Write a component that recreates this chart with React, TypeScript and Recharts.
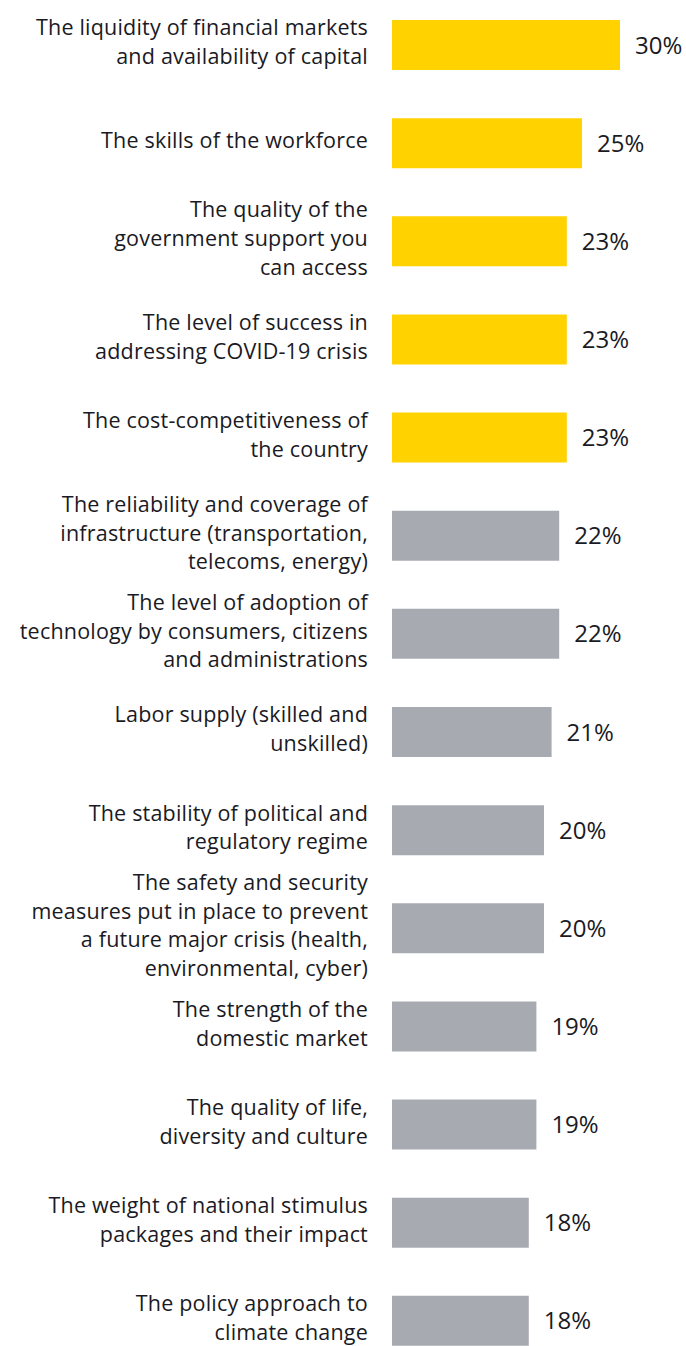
import { Bar, BarChart, Cell, LabelList, XAxis, YAxis } from 'recharts';

// each label is split the way the source wraps it
const categories = [
  'The liquidity of financial markets|and availability of capital',
  'The skills of the workforce',
  'The quality of the|government support you|can access',
  'The level of success in|addressing COVID-19 crisis',
  'The cost-competitiveness of|the country',
  'The reliability and coverage of|infrastructure (transportation,|telecoms, energy)',
  'The level of adoption of|technology by consumers, citizens|and administrations',
  'Labor supply (skilled and|unskilled)',
  'The stability of political and|regulatory regime',
  'The safety and security|measures put in place to prevent|a future major crisis (health,|environmental, cyber)',
  'The strength of the|domestic market',
  'The quality of life,|diversity and culture',
  'The weight of national stimulus|packages and their impact',
  'The policy approach to|climate change',
];
const values = [30, 25, 23, 23, 23, 22, 22, 21, 20, 20, 19, 19, 18, 18];
const highlighted = [true, true, true, true, true, false, false, false, false, false, false, false, false, false];

const YELLOW = '#FFD200';
const GREY = '#A7ABB1';
const INK = '#1A1A24';
const FONT = '"Open Sans", "Noto Sans", sans-serif';

const data = categories.map((name, i) => ({ name, value: values[i], hi: highlighted[i] }));

function CategoryTick(props: any) {
  const { x, y, payload } = props;
  const lines = String(payload.value).split('|');
  const lh = 28.7;
  const start = y - ((lines.length - 1) * lh) / 2 - 3;
  return (
    <text x={x} y={start} textAnchor="end" fill={INK} fontSize={21.5} letterSpacing={0.2} fontFamily={FONT}>
      {lines.map((l, i) => (
        <tspan key={i} x={x} y={start + i * lh} dy="0.36em">
          {l}
        </tspan>
      ))}
    </text>
  );
}

export default function App() {
  return (
    <div style={{ position: 'absolute', left: 0, top: 0, width: 686, height: 1346, overflow: 'hidden', background: '#fff' }}>
      <div style={{ position: 'absolute', left: 0, top: -4 }}>
        <BarChart
          width={686}
          height={1374}
          data={data}
          layout="vertical"
          margin={{ top: 0, right: 66, bottom: 0, left: 0 }}
          barSize={50}
        >
          <XAxis type="number" hide domain={[0, 30]} />
          <YAxis
            type="category"
            dataKey="name"
            width={392}
            axisLine={false}
            tickLine={false}
            tickSize={0}
            tickMargin={24}
            interval={0}
            tick={<CategoryTick />}
          />
          <Bar dataKey="value" isAnimationActive={false}>
            {data.map((d, i) => (
              <Cell key={i} fill={d.hi ? YELLOW : GREY} />
            ))}
            <LabelList
              dataKey="value"
              position="right"
              offset={15}
              formatter={(v: any) => `${v}%`}
              fill={INK}
              fontSize={24}
              fontFamily={FONT}
            />
          </Bar>
        </BarChart>
      </div>
    </div>
  );
}
